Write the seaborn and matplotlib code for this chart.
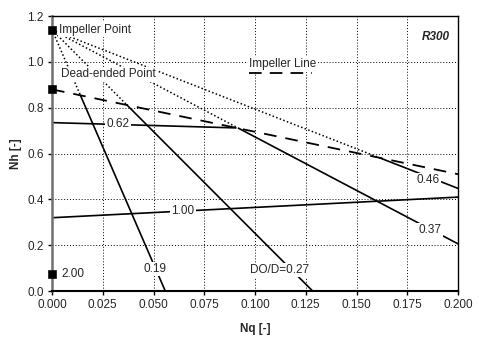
import matplotlib
matplotlib.use("Agg")
import matplotlib.pyplot as plt
import seaborn as sns
import pandas as pd

# ---- data ----
impeller_point = (0.0, 1.14)
impeller_line_x = [0.0, 0.2]
impeller_line_y = [0.88, 0.51]

ratio_labels = ["0.19", "DO/D=0.27", "0.37", "0.46"]
dead_x = [0.014, 0.037, 0.0922, 0.1615]
dead_y = [0.854, 0.811, 0.709, 0.581]
end_x = [0.0558, 0.1284, 0.2, 0.2]
end_y = [0.0, 0.0, 0.206, 0.448]
label_x = [0.0507, 0.1123, 0.186, 0.185]
label_y = [0.096, 0.092, 0.266, 0.484]

line062_x = [0.0, 0.0906]
line062_y = [0.735, 0.712]
line100_x = [0.0, 0.2]
line100_y = [0.32, 0.41]
point200 = (0.0, 0.075)

x_ticks = [0.0, 0.025, 0.05, 0.075, 0.1, 0.125, 0.15, 0.175, 0.2]
y_ticks = [0.0, 0.2, 0.4, 0.6, 0.8, 1.0, 1.2]

sns.set_style("white")
plt.rcParams['font.family'] = ['Liberation Sans', 'DejaVu Sans']
plt.rcParams['font.size'] = 8.5

fig = plt.figure(figsize=(4.79, 3.49), dpi=100)
ax = fig.add_axes([0.1086, 0.166, 0.8476, 0.788])

dot = (1, 1.5)
# dotted segments from impeller point to dead-ended points, then solid
for dx, dy, ex, ey in zip(dead_x, dead_y, end_x, end_y):
    sns.lineplot(x=[impeller_point[0], dx], y=[impeller_point[1], dy], ax=ax,
                 color="black", lw=1.1, sort=False, zorder=2)
    ax.lines[-1].set_dashes(dot)
    sns.lineplot(x=[dx, ex], y=[dy, ey], ax=ax, color="black", lw=1.2,
                 sort=False, zorder=3)

# impeller line (dashed)
sns.lineplot(x=impeller_line_x, y=impeller_line_y, ax=ax, color="black",
             lw=1.3, sort=False, zorder=3)
ax.lines[-1].set_dashes((7, 5))

sns.lineplot(x=line062_x, y=line062_y, ax=ax, color="black", lw=1.2,
             sort=False, zorder=3)
sns.lineplot(x=line100_x, y=line100_y, ax=ax, color="black", lw=1.2,
             sort=False, zorder=3)

# markers
pts = pd.DataFrame({"x": [impeller_point[0], impeller_line_x[0], point200[0]],
                    "y": [impeller_point[1], impeller_line_y[0], point200[1]]})
sns.scatterplot(data=pts, x="x", y="y", ax=ax, marker="s", s=30,
                color="black", edgecolor="black", zorder=9, clip_on=False)

bb = dict(facecolor="white", edgecolor="none", pad=1.0)
for lab, lx, ly in zip(ratio_labels, label_x, label_y):
    ax.text(lx, ly, lab, ha="center", va="center", bbox=bb, zorder=5)
ax.text(0.0325, 0.73, "0.62", ha="center", va="center", bbox=bb, zorder=5)
ax.text(0.0645, 0.35, "1.00", ha="center", va="center", bbox=bb, zorder=5)
ax.text(0.0045, 0.075, "2.00", ha="left", va="center", bbox=bb, zorder=5)
ax.text(0.0035, 1.14, "Impeller Point", ha="left", va="center", bbox=bb, zorder=5)
ax.text(0.0045, 0.945, "Dead-ended Point", ha="left", va="center", bbox=bb, zorder=5)
ax.text(0.097, 0.99, "Impeller Line", ha="left", va="center", bbox=bb, zorder=5)
ax.plot([0.097, 0.128], [0.952, 0.952], color="black", lw=1.3, dashes=(7, 4.5), zorder=5)
ax.text(0.196, 1.108, "R300", ha="right", va="center", fontweight="bold",
        fontstyle="italic", zorder=5)

ax.set_xlim(0, 0.2)
ax.set_ylim(0, 1.2)
ax.set_xticks(x_ticks)
ax.set_xticklabels([f"{v:.3f}" for v in x_ticks])
ax.set_yticks(y_ticks)
ax.set_yticklabels([f"{v:.1f}" for v in y_ticks])
ax.grid(True, color="black", lw=0.7, linestyle=(0, (1, 2)))
ax.tick_params(axis="both", direction="out", length=3, width=1, color="black",
               pad=3, bottom=True, left=True)
ax.set_xlabel("Nq [-]", fontweight="bold", labelpad=8)
ax.set_ylabel("Nh [-]", fontweight="bold", labelpad=4)

for s in ["top", "right"]:
    ax.spines[s].set_color("black")
    ax.spines[s].set_linewidth(1.0)
ax.spines["left"].set_color("#707070")
ax.spines["left"].set_linewidth(1.8)
ax.spines["bottom"].set_color("black")
ax.spines["bottom"].set_linewidth(1.5)
for s in ax.spines.values():
    s.set_zorder(7)

fig.savefig("out.png", dpi=100)
